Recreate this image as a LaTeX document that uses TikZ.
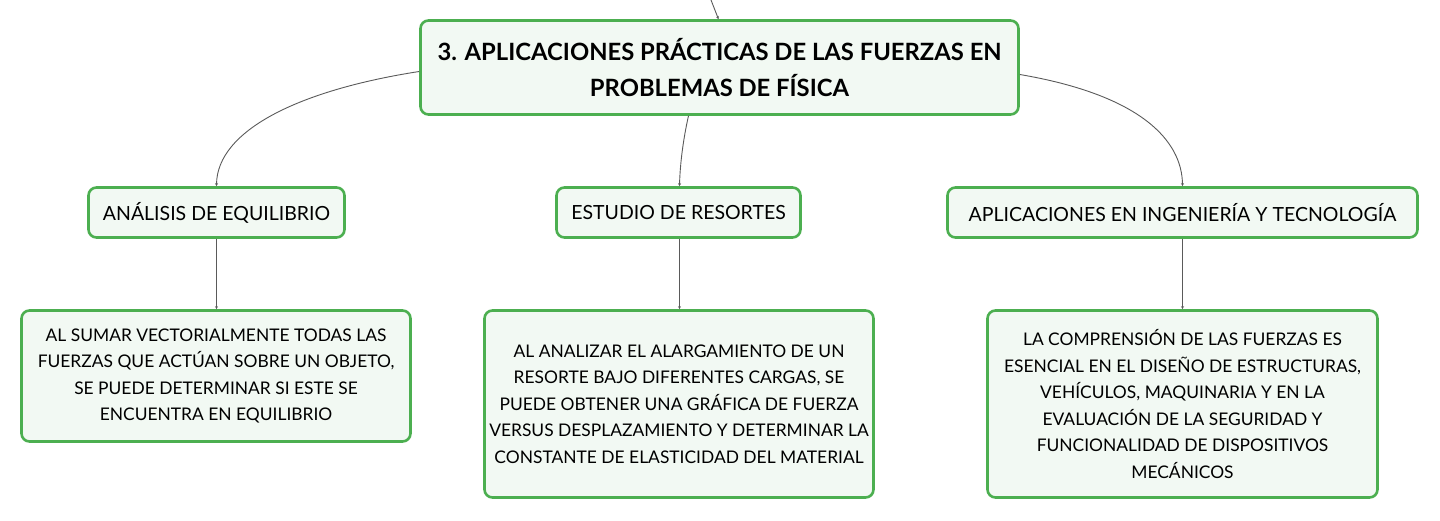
\documentclass[tikz,border=0pt]{standalone}
\usepackage{fontspec}
\setmainfont{Lato}
\usetikzlibrary{arrows.meta}
\definecolor{boxgreen}{RGB}{76,175,80}
\definecolor{boxfill}{RGB}{242,249,243}
\definecolor{linegray}{RGB}{90,90,90}
\tikzset{
  box/.style={draw=boxgreen, fill=boxfill, line width=2.6pt, rounded corners=8pt, inner sep=0pt, align=center, text=black},
  rootbox/.style={box, minimum width=598pt, minimum height=94pt, font=\fontsize{23.8}{36}\selectfont\bfseries},
  midbox/.style={box, minimum height=50pt, font=\fontsize{19.5}{22}\selectfont},
  leafbox/.style={box, font=\fontsize{17.4}{26.5}\selectfont},
  conn/.style={draw=linegray, line width=0.9pt, -{Stealth[length=3pt,width=3pt]}}
}
\begin{document}
\begin{tikzpicture}[x=1pt,y=-1pt]
\useasboundingbox (0,0) rectangle (1440,521);
\node[rootbox] (root) at (719.5,67.5) {3. APLICACIONES PRÁCTICAS DE LAS FUERZAS EN\\PROBLEMAS DE FÍSICA};
\node[midbox, minimum width=256pt] (a) at (216.5,212.5) {ANÁLISIS DE EQUILIBRIO};
\node[midbox, minimum width=244pt] (b) at (678.5,212.5) {ESTUDIO DE RESORTES};
\node[midbox, minimum width=470pt] (c) at (1182.5,212.5) {APLICACIONES EN INGENIERÍA Y TECNOLOGÍA};
\node[leafbox, minimum width=389pt, minimum height=131pt] (la) at (216,376) {AL SUMAR VECTORIALMENTE TODAS LAS\\FUERZAS QUE ACTÚAN SOBRE UN OBJETO,\\SE PUEDE DETERMINAR SI ESTE SE\\ENCUENTRA EN EQUILIBRIO};
\node[leafbox, minimum width=389pt, minimum height=187pt] (lb) at (679,404) {AL ANALIZAR EL ALARGAMIENTO DE UN\\RESORTE BAJO DIFERENTES CARGAS, SE\\PUEDE OBTENER UNA GRÁFICA DE FUERZA\\VERSUS DESPLAZAMIENTO Y DETERMINAR LA\\CONSTANTE DE ELASTICIDAD DEL MATERIAL};
\node[leafbox, minimum width=390pt, minimum height=187pt] (lc) at (1182.5,404) {LA COMPRENSIÓN DE LAS FUERZAS ES\\ESENCIAL EN EL DISEÑO DE ESTRUCTURAS,\\VEHÍCULOS, MAQUINARIA Y EN LA\\EVALUACIÓN DE LA SEGURIDAD Y\\FUNCIONALIDAD DE DISPOSITIVOS\\MECÁNICOS};
\coordinate (topin) at (711,0);
\draw[conn] (topin) .. controls (714,8) .. ([xshift=-1pt]root.north);
\draw[conn] ([yshift=-4pt]root.west) .. controls (300,90) and (217,130) .. (a.north);
\draw[conn] ([xshift=-31pt]root.south) .. controls (683,140) and (680,165) .. ([xshift=1pt]b.north);
\draw[conn] ([yshift=-7pt]root.east) .. controls (1140,95) and (1182,140) .. (c.north);
\draw[conn] (a.south) -- (a.south |- la.north);
\draw[conn] ([xshift=1pt]b.south) -- ([xshift=1pt]b.south |- lb.north);
\draw[conn] (c.south) -- (c.south |- lc.north);
\end{tikzpicture}
\end{document}
